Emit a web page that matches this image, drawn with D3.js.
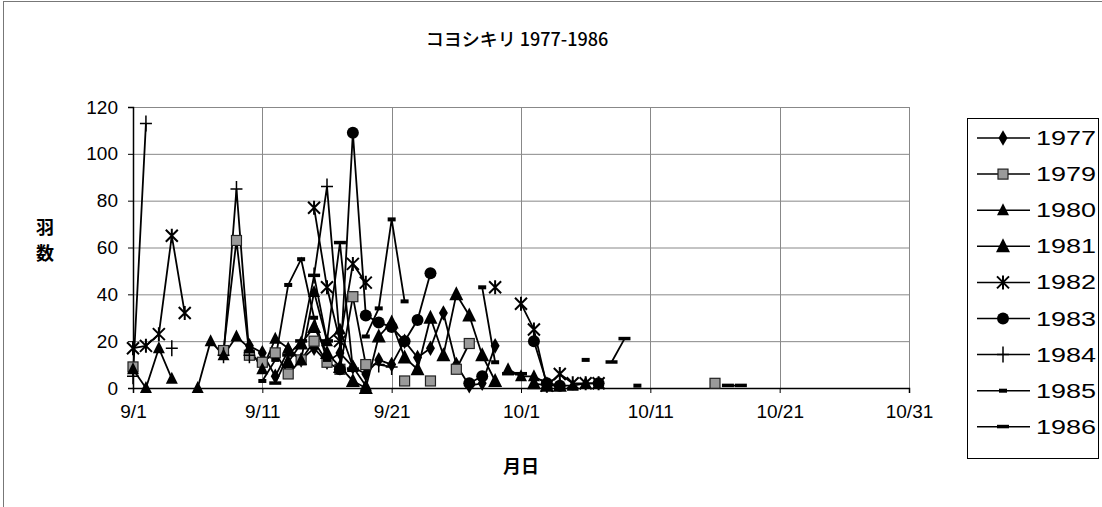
<!DOCTYPE html>
<html>
<head>
<meta charset="utf-8">
<script src="https://cdn.jsdelivr.net/npm/d3@7"></script>
<style>
body { margin: 0; background: #fff; }
text { font-family: "Liberation Sans", Arial, sans-serif; fill: #000; }
.jp { font-family: "Noto Sans CJK JP", "Noto Sans", sans-serif; }
</style>
</head>
<body>
<div id="chart"></div>
<script>
// chart texts
var title = "コヨシキリ 1977-1986";
var xTitle = "月日";
var yTitle = ["羽", "数"];

// axes
var xTicks = ["9/1", "9/11", "9/21", "10/1", "10/11", "10/21", "10/31"];
var yTicks = [0, 20, 40, 60, 80, 100, 120];

// series: [date, count], null = no count that day (line breaks)
var s1977 = [["9/10",18],["9/11",15],["9/12",5],["9/13",16],["9/14",12],["9/15",17],["9/16",11],["9/17",15],["9/18",9],["9/19",6],["9/20",12],["9/21",10],["9/22",20],["9/23",13],["9/24",17],["9/25",32],["9/26",10],["9/27",1],["9/28",2],["9/29",18]];
var s1979 = [["9/1",9],["9/2",null],["9/8",16],["9/9",63],["9/10",14],["9/11",11],["9/12",15],["9/13",6],["9/14",12],["9/15",20],["9/16",11],["9/17",8],["9/18",39],["9/19",10],["9/20",null],["9/22",3],["9/23",null],["9/24",3],["9/25",null],["9/26",8],["9/27",19],["9/28",null],["10/16",2]];
var s1980 = [["9/1",8],["9/2",0],["9/3",17],["9/4",4],["9/5",null],["9/6",0],["9/7",20],["9/8",14],["9/9",22],["9/10",17],["9/11",8],["9/12",21],["9/13",17],["9/14",12],["9/15",41],["9/16",20],["9/17",25],["9/18",9],["9/19",1],["9/20",null],["9/30",8],["10/1",5],["10/2",5],["10/3",2],["10/4",1],["10/5",1],["10/6",2],["10/7",2]];
var s1981 = [["9/13",11],["9/14",19],["9/15",26],["9/16",15],["9/17",9],["9/18",3],["9/19",0],["9/20",22],["9/21",28],["9/22",13],["9/23",8],["9/24",30],["9/25",14],["9/26",40],["9/27",31],["9/28",14],["9/29",3],["9/30",null],["10/2",2],["10/3",1],["10/4",1]];
var s1982 = [["9/1",17],["9/2",18],["9/3",23],["9/4",65],["9/5",32],["9/6",null],["9/15",77],["9/16",43],["9/17",20],["9/18",53],["9/19",45],["9/20",null],["9/29",43],["9/30",null],["10/1",36],["10/2",25],["10/3",1],["10/4",6],["10/5",2],["10/6",2],["10/7",2]];
var s1983 = [["9/17",8],["9/18",109],["9/19",31],["9/20",28],["9/21",26],["9/22",20],["9/23",29],["9/24",49],["9/25",null],["9/27",2],["9/28",5],["9/29",null],["10/2",20],["10/3",2],["10/4",1],["10/5",null],["10/7",2]];
var s1984 = [["9/1",5],["9/2",113],["9/3",null],["9/4",17],["9/5",null],["9/8",14],["9/9",85],["9/10",14],["9/11",null],["9/15",48],["9/16",86],["9/17",20],["9/18",null],["9/20",10],["9/21",9]];
var s1985 = [["9/11",3],["9/12",12],["9/13",44],["9/14",55],["9/15",30],["9/16",12],["9/17",null],["9/19",22],["9/20",34],["9/21",72],["9/22",37],["9/23",null],["9/28",43],["9/29",11],["9/30",null],["10/6",12],["10/7",null],["10/10",1]];
var s1986 = [["9/12",2],["9/13",14],["9/14",20],["9/15",48],["9/16",20],["9/17",62],["9/18",8],["9/19",null],["9/30",6],["10/1",6],["10/2",null],["10/8",11],["10/9",21],["10/10",null],["10/17",1],["10/18",1]];

var years = ["1977", "1979", "1980", "1981", "1982", "1983", "1984", "1985", "1986"];
var seriesData = [s1977, s1979, s1980, s1981, s1982, s1983, s1984, s1985, s1986];
var markers = ["diamond", "square", "tri", "tri2", "star", "circle", "plus", "dash", "dash2"];

var W = 1102, H = 507;
var plot = {left: 133, right: 909, top: 107, bottom: 388};

var parse = d3.timeParse("%m/%d");

var x = d3.scaleTime()
    .domain([parse("9/1"), parse("10/31")])
    .range([plot.left, plot.right]);
var y = d3.scaleLinear()
    .domain([0, 120])
    .range([plot.bottom, plot.top]);

var svg = d3.select("#chart").append("svg")
    .attr("width", W)
    .attr("height", H);

// outer frame
svg.append("rect")
    .attr("x", 3.5).attr("y", 1.5)
    .attr("width", W + 20).attr("height", H + 20)
    .attr("fill", "none").attr("stroke", "#777");

// grid
svg.append("g").selectAll("line")
    .data(yTicks.slice(1))
    .enter().append("line")
    .attr("x1", plot.left).attr("x2", plot.right)
    .attr("y1", d => y(d) + 0.5).attr("y2", d => y(d) + 0.5)
    .attr("stroke", "#888");
svg.append("g").selectAll("line")
    .data(xTicks.slice(1))
    .enter().append("line")
    .attr("x1", d => Math.round(x(parse(d))) + 0.5).attr("x2", d => Math.round(x(parse(d))) + 0.5)
    .attr("y1", plot.top).attr("y2", plot.bottom)
    .attr("stroke", "#888");

// axes
var yAxis = svg.append("g")
    .attr("transform", "translate(" + plot.left + ",0)")
    .call(d3.axisLeft(y).tickValues(yTicks).tickSize(5).tickPadding(10));
var xAxis = svg.append("g")
    .attr("transform", "translate(0," + plot.bottom + ")")
    .call(d3.axisBottom(x).tickValues(xTicks.map(parse)).tickFormat(d3.timeFormat("%-m/%-d")).tickSize(5).tickPadding(8));
[yAxis, xAxis].forEach(function (g) {
    g.selectAll("text").style("font-size", "19px").attr("fill", "#000");
    g.selectAll("line").attr("stroke", "#000");
    g.select(".domain").attr("stroke", "#000").attr("stroke-width", 1.5);
});
xAxis.selectAll("text").attr("dy", "0.9em");

// titles
svg.append("text")
    .attr("class", "jp")
    .attr("x", (plot.left + plot.right) / 2 - 4)
    .attr("y", 46)
    .attr("text-anchor", "middle")
    .style("font-size", "18px")
    .style("font-weight", "500")
    .text(title);
svg.append("text")
    .attr("class", "jp")
    .attr("x", (plot.left + plot.right) / 2)
    .attr("y", 473)
    .attr("text-anchor", "middle")
    .style("font-size", "18px")
    .style("font-weight", "bold")
    .text(xTitle);
svg.selectAll(".ytitle")
    .data(yTitle)
    .enter().append("text")
    .attr("class", "jp")
    .attr("x", 45)
    .attr("y", (d, i) => 234 + i * 26)
    .attr("text-anchor", "middle")
    .style("font-size", "18px")
    .style("font-weight", "bold")
    .text(d => d);

// marker drawing
function drawMarker(g, type) {
    if (type == "diamond") {
        g.append("path").attr("d", d3.symbol(d3.symbolDiamond, 70)()).attr("fill", "#000");
    } else if (type == "square") {
        g.append("rect").attr("x", -5).attr("y", -5).attr("width", 10).attr("height", 10)
            .attr("fill", "#9a9a9a").attr("stroke", "#222").attr("stroke-width", 1.2);
    } else if (type == "tri") {
        g.append("path").attr("d", "M0,-7L6,5L-6,5Z").attr("fill", "#000");
    } else if (type == "tri2") {
        g.append("path").attr("d", "M0,-8L7,6L-7,6Z").attr("fill", "#000");
    } else if (type == "star") {
        g.append("path").attr("d", "M-6,-6L6,6M-6,6L6,-6M0,-7L0,7")
            .attr("stroke", "#000").attr("stroke-width", 2).attr("fill", "none");
    } else if (type == "circle") {
        g.append("circle").attr("r", 6).attr("fill", "#000");
    } else if (type == "plus") {
        g.append("path").attr("d", "M-6,0L6,0M0,-8L0,8")
            .attr("stroke", "#000").attr("stroke-width", 1.5).attr("fill", "none");
    } else if (type == "dash") {
        g.append("rect").attr("x", -4).attr("y", -2).attr("width", 8).attr("height", 4).attr("fill", "#000");
    } else if (type == "dash2") {
        g.append("rect").attr("x", -6).attr("y", -2).attr("width", 12).attr("height", 3.5).attr("fill", "#000");
    }
}

var line = d3.line()
    .defined(d => d[1] != null)
    .x(d => x(parse(d[0])))
    .y(d => y(d[1]));

seriesData.forEach(function (data, i) {
    svg.append("path")
        .datum(data)
        .attr("d", line)
        .attr("fill", "none")
        .attr("stroke", "#000")
        .attr("stroke-width", 1.8);
});
seriesData.forEach(function (data, i) {
    svg.append("g").selectAll("g")
        .data(data.filter(d => d[1] != null))
        .enter().append("g")
        .attr("transform", d => "translate(" + x(parse(d[0])) + "," + y(d[1]) + ")")
        .each(function () { drawMarker(d3.select(this), markers[i]); });
});

// legend
var legend = svg.append("g");
legend.append("rect")
    .attr("x", 967.5).attr("y", 118.5)
    .attr("width", 131).attr("height", 340)
    .attr("fill", "#fff").attr("stroke", "#000");
var rows = legend.selectAll(".row")
    .data(years)
    .enter().append("g")
    .attr("transform", (d, i) => "translate(0," + (138 + i * 36.1) + ")");
rows.append("line")
    .attr("x1", 977).attr("x2", 1030)
    .attr("stroke", "#000").attr("stroke-width", 1.5);
rows.append("g")
    .attr("transform", "translate(1003,0)")
    .each(function (d, i) { drawMarker(d3.select(this), markers[i]); });
rows.append("text")
    .attr("x", 1036)
    .attr("y", 7)
    .attr("textLength", 60)
    .attr("lengthAdjust", "spacingAndGlyphs")
    .style("font-size", "20px")
    .text(d => d);
</script>
</body>
</html>
